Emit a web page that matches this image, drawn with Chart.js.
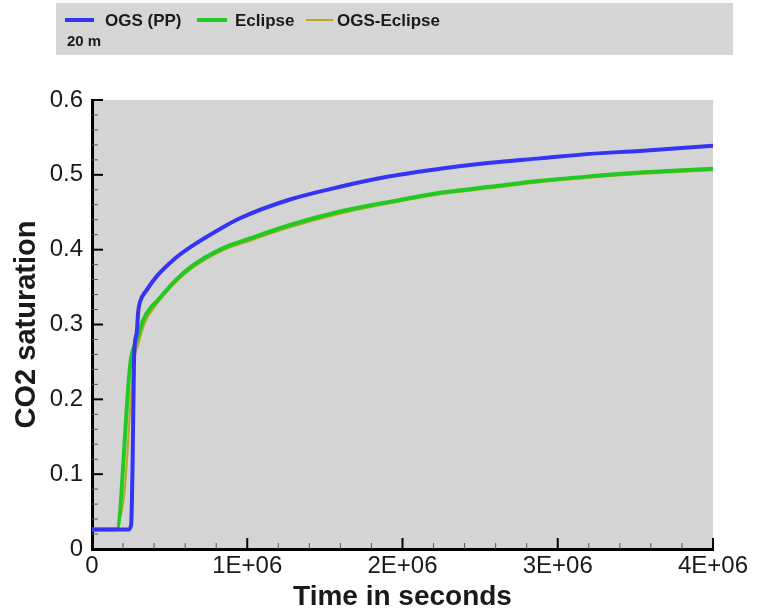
<!DOCTYPE html>
<html lang="en">
<head>
  <meta charset="UTF-8">
  <title>CO2 saturation over time</title>
  <script src="https://cdn.jsdelivr.net/npm/chart.js"></script>
  <style>
    body {
      margin: 0;
      background: #fff;
    }
    canvas {
      display: block;
    }
  </style>
</head>
<body>

<canvas id="satChart" width="763" height="611" role="img" aria-label="CO2 saturation versus time"></canvas>

<script>
  // values (time in seconds)
  const ogsTime = [0, 234000, 252000, 262000, 271000, 288000, 298000, 309000, 352000, 419000, 522000, 631000,
    844000, 953000, 1275000, 1597000, 1919000, 2242000, 2564000, 2886000, 3208000, 3529000, 4000000];
  const ogsSat = [0.026, 0.026, 0.032, 0.12, 0.257, 0.289, 0.318, 0.33, 0.346, 0.365, 0.386, 0.403,
    0.43, 0.442, 0.467, 0.484, 0.498, 0.508, 0.516, 0.522, 0.528, 0.532, 0.539];

  const eclTime = [0, 159000, 248000, 288000, 330000, 384000, 417000, 524000, 631000, 844000, 1018000,
    1275000, 1597000, 1919000, 2242000, 2564000, 2886000, 3208000, 3529000, 4000000];
  const eclSat = [0.026, 0.026, 0.25, 0.279, 0.306, 0.324, 0.331, 0.356, 0.376, 0.402, 0.415,
    0.433, 0.451, 0.464, 0.476, 0.484, 0.492, 0.498, 0.503, 0.508];

  const ogsEclTime = [0, 159000, 185000, 202000, 213000, 266000, 300000, 340000, 420000, 524000, 631000,
    844000, 1018000, 1275000, 1597000, 1919000, 2242000, 2564000, 2886000, 3208000, 3529000, 4000000];
  const ogsEclSat = [0.026, 0.026, 0.045, 0.063, 0.083, 0.244, 0.275, 0.302, 0.328, 0.353, 0.373,
    0.399, 0.412, 0.43, 0.448, 0.462, 0.474, 0.482, 0.49, 0.496, 0.501, 0.506];

  const seriesNames = ['OGS (PP)', 'Eclipse', 'OGS-Eclipse'];
  const xTickLabels = ['0', '1E+06', '2E+06', '3E+06', '4E+06'];
  const legendNote = '20 m';

  const toPoints = (xs, ys) => xs.map((x, i) => ({ x: x, y: ys[i] }));

  // grey plot background
  const plotBg = {
    id: 'plotBg',
    beforeDraw(chart) {
      const { ctx, chartArea: a } = chart;
      ctx.save();
      ctx.fillStyle = '#d4d4d4';
      ctx.fillRect(a.left, a.top, a.right - a.left, a.bottom - a.top);
      ctx.restore();
    }
  };

  // tick marks pointing into the plot, with minor ticks
  const innerTicks = {
    id: 'innerTicks',
    afterDraw(chart) {
      const { ctx, chartArea: a } = chart;
      const xs = chart.scales.x, ys = chart.scales.y;
      ctx.save();
      for (let i = 1; i <= 20; i++) {
        const px = xs.getPixelForValue(i * 200000);
        const major = i % 5 === 0;
        ctx.strokeStyle = major ? '#000' : '#555';
        ctx.lineWidth = major ? 2 : 1;
        ctx.beginPath();
        ctx.moveTo(px, a.bottom);
        ctx.lineTo(px, a.bottom - (major ? 11 : 6));
        ctx.stroke();
      }
      for (let i = 1; i <= 30; i++) {
        const py = ys.getPixelForValue(i * 0.02);
        const major = i % 5 === 0;
        ctx.strokeStyle = major ? '#000' : '#555';
        ctx.lineWidth = major ? 2 : 1;
        ctx.beginPath();
        ctx.moveTo(a.left, py);
        ctx.lineTo(a.left + (major ? 11 : 6), py);
        ctx.stroke();
      }
      ctx.restore();
    }
  };

  // legend box at top
  const legendBox = {
    id: 'legendBox',
    afterDraw(chart) {
      const ctx = chart.ctx;
      const ds = chart.data.datasets;
      ctx.save();
      ctx.fillStyle = '#d6d6d6';
      ctx.fillRect(56, 3, 677, 52);
      ctx.textBaseline = 'middle';
      ctx.textAlign = 'left';
      ctx.font = 'bold 17px "Liberation Sans", Arial, sans-serif';
      const slots = [[65, 94, 105], [197, 227, 235], [306, 333, 337]];
      ds.forEach((d, i) => {
        const [s0, s1, tx] = slots[i];
        ctx.strokeStyle = d.borderColor;
        ctx.lineWidth = i === 2 ? 2 : 4;
        ctx.beginPath();
        ctx.moveTo(s0, 20);
        ctx.lineTo(s1, 20);
        ctx.stroke();
        ctx.fillStyle = '#1a1a1a';
        ctx.fillText(d.label, tx, 21);
      });
      ctx.font = 'bold 15px "Liberation Sans", Arial, sans-serif';
      ctx.fillText(legendNote, 67, 42);
      ctx.restore();
    }
  };

  const ctx = document.getElementById('satChart').getContext('2d');

  new Chart(ctx, {
    type: 'line',
    data: {
      datasets: [
        {
          label: seriesNames[0],
          data: toPoints(ogsTime, ogsSat),
          borderColor: '#3434f2',
          borderWidth: 4,
          order: 0
        },
        {
          label: seriesNames[1],
          data: toPoints(eclTime, eclSat),
          borderColor: '#22c922',
          borderWidth: 4,
          order: 1
        },
        {
          label: seriesNames[2],
          data: toPoints(ogsEclTime, ogsEclSat),
          borderColor: '#b9a72a',
          borderWidth: 2,
          order: 2
        }
      ]
    },
    options: {
      responsive: false,
      animation: false,
      parsing: false,
      elements: {
        point: { radius: 0 },
        line: { cubicInterpolationMode: 'monotone', borderCapStyle: 'round', borderJoinStyle: 'round' }
      },
      layout: { padding: { top: 100, right: 50, left: 0, bottom: 0 } },
      plugins: {
        legend: { display: false },
        tooltip: { enabled: false }
      },
      scales: {
        x: {
          type: 'linear',
          min: 0,
          max: 4000000,
          afterFit: s => { s.height = 62; },
          grid: { display: false, drawTicks: false },
          border: { display: true, color: '#000', width: 3 },
          ticks: {
            stepSize: 1000000,
            padding: 3,
            color: '#1a1a1a',
            font: { family: '"Liberation Sans", Arial, sans-serif', size: 24 },
            callback: v => xTickLabels[Math.round(v / 1000000)]
          },
          title: {
            display: true,
            text: 'Time in seconds',
            color: '#1a1a1a',
            font: { family: '"Liberation Sans", Arial, sans-serif', size: 28, weight: 'bold', lineHeight: 1 },
            padding: { top: 0, bottom: 0 }
          }
        },
        y: {
          min: 0,
          max: 0.6,
          afterFit: s => { s.width = 92; },
          grid: { display: false, drawTicks: false },
          border: { display: true, color: '#000', width: 3 },
          ticks: {
            stepSize: 0.1,
            padding: 9,
            color: '#1a1a1a',
            font: { family: '"Liberation Sans", Arial, sans-serif', size: 24 }
          },
          title: {
            display: true,
            text: 'CO2 saturation',
            color: '#1a1a1a',
            font: { family: '"Liberation Sans", Arial, sans-serif', size: 29, weight: 'bold', lineHeight: 1.2 },
            padding: { top: 10, bottom: 0 }
          }
        }
      }
    },
    plugins: [plotBg, innerTicks, legendBox]
  });
</script>

</body>
</html>
